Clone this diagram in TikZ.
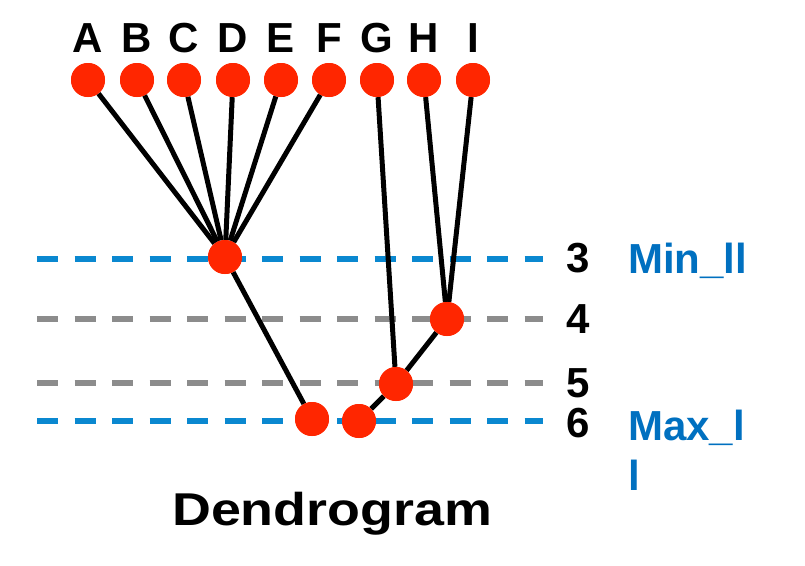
\documentclass[tikz,border=0pt]{standalone}
\usepackage{fontspec}
\setmainfont{Liberation Sans}
\definecolor{dotred}{RGB}{255,38,0}
\definecolor{lineblue}{RGB}{10,136,208}
\definecolor{linegray}{RGB}{140,140,140}
\definecolor{textblue}{RGB}{0,112,192}
\begin{document}
\begin{tikzpicture}[x=1pt,y=-1pt,
  dot/.style={circle, fill=dotred, minimum size=34pt, inner sep=0pt},
  link/.style={line width=5pt, black},
  levelline/.style={line width=6pt, dash pattern=on 21pt off 16.5pt},
  shadowline/.style={levelline, black, opacity=0.12, yshift=-3pt},
  big/.style={font=\fontsize{42}{50}\selectfont\bfseries, inner sep=0pt, anchor=base},
  bluetext/.style={big, text=textblue, anchor=base west}]
\useasboundingbox (0,0) rectangle (805,565);
% level lines
\foreach \n/\y/\c in {3/259/lineblue,4/319/linegray,5/383/linegray,6/421/lineblue}{
  \coordinate (s\n) at (37,\y);
  \coordinate (e\n) at (543,\y);
  \draw[shadowline] (s\n) -- (e\n);
  \draw[levelline, \c] (s\n) -- (e\n);
}
% leaves
\foreach \l/\x in {A/88,B/137,C/184,D/233,E/281,F/329,G/377,H/424,I/473}{
  \node[dot] (\l) at (\x,80) {};
  \node[big] (t\l) at (\x,52) {\l};
}
% internal nodes
\node[dot] (n3) at (225,257) {};
\node[dot] (n4) at (447,319) {};
\node[dot] (n5) at (396,384) {};
\node[dot] (n6a) at (312,419) {};
\node[dot] (n6b) at (359,421) {};
% links
\foreach \l in {A,B,C,D,E,F}{ \draw[link] (\l) -- (n3); }
\draw[link] (n3) -- (n6a);
\draw[link] (G) -- (n5);
\draw[link] (H) -- (n4);
\draw[link] (I) -- (n4);
\draw[link] (n4) -- (n5);
\draw[link] (n5) -- (n6b);
% redraw dots on top
\foreach \l in {A,B,C,D,E,F,G,H,I,n3,n4,n5,n6a,n6b}{ \fill[dotred] (\l) circle (17pt); }
% level labels
\node[big] (d3) at (578,272) {3};
\node[big] (d4) at (578,333) {4};
\node[big] (d5) at (578,397) {5};
\node[big] (d6) at (578,437) {6};
\node[bluetext] (min) at (628,273) {Min\_ll};
\node[bluetext] (max) at (628,440) {Max\_l};
\node[bluetext] (max2) at (628,490) {l};
% title
\node[font=\fontsize{46}{50}\selectfont\bfseries, inner sep=0pt, anchor=base west] (title) at (172,525) {\scalebox{1.17}[1]{Dendrogram}};
\end{tikzpicture}
\end{document}
